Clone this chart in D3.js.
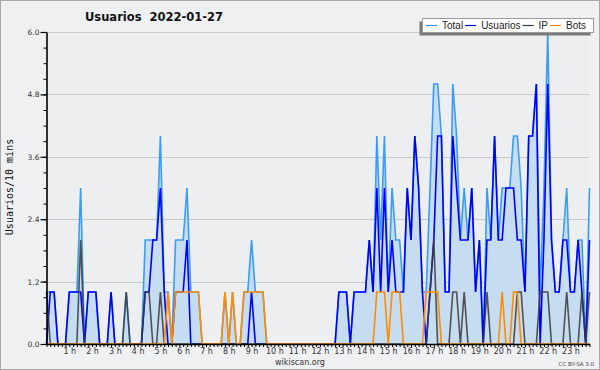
<!DOCTYPE html>
<html>
<head>
<meta charset="utf-8">
<script src="https://cdn.jsdelivr.net/npm/d3@7"></script>
<style>
  html, body { margin: 0; padding: 0; background: #eff0f1; }
  svg { display: block; }
</style>
</head>
<body>
<div id="chart"></div>
<script>
/* Data: one value per 10 minutes, 00:00 - 23:50
-----------------------------------------------------------------------------*/
const total = [
  1, 1, 1, 0, 0, 0, 1, 1, 1, 3, 0, 1,
  1, 1, 0, 0, 0, 1, 0, 0, 0, 1, 0, 0,
  0, 0, 2, 2, 2, 2, 4, 1, 1, 0, 2, 2,
  2, 3, 1, 1, 1, 0, 0, 0, 0, 0, 0, 1,
  0, 1, 0, 0, 1, 1, 2, 1, 1, 1, 0, 0,
  0, 0, 0, 0, 0, 0, 0, 0, 0, 0, 0, 0,
  0, 0, 0, 0, 0, 1, 1, 1, 0, 1, 1, 1,
  1, 2, 1, 4, 2, 4, 1, 3, 2, 2, 1, 3,
  2, 4, 3, 1, 1, 3, 5, 5, 4, 1, 1, 5,
  4, 2, 3, 2, 3, 1, 2, 0, 3, 2, 4, 2,
  3, 3, 3, 4, 4, 3, 1, 4, 4, 5, 1, 3,
  6, 2, 1, 1, 2, 3, 1, 1, 2, 2, 0, 3,
];

const usuarios = [
  0, 1, 1, 0, 0, 0, 1, 1, 1, 1, 0, 1,
  1, 1, 0, 0, 0, 1, 0, 0, 0, 0, 0, 0,
  0, 0, 1, 1, 2, 2, 3, 1, 0, 0, 1, 1,
  1, 2, 0, 0, 0, 0, 0, 0, 0, 0, 0, 0,
  0, 0, 0, 0, 0, 0, 1, 0, 0, 0, 0, 0,
  0, 0, 0, 0, 0, 0, 0, 0, 0, 0, 0, 0,
  0, 0, 0, 0, 0, 1, 1, 1, 0, 1, 1, 1,
  1, 2, 1, 3, 1, 3, 1, 2, 1, 1, 1, 3,
  2, 4, 3, 1, 0, 1, 2, 4, 4, 1, 1, 4,
  3, 2, 2, 2, 3, 1, 2, 0, 2, 2, 4, 2,
  2, 3, 3, 3, 2, 2, 1, 4, 4, 5, 0, 2,
  5, 2, 1, 1, 2, 2, 1, 1, 2, 1, 0, 2,
];

const ip = [
  1, 0, 0, 0, 0, 0, 0, 0, 0, 2, 0, 0,
  0, 0, 0, 0, 0, 0, 0, 0, 0, 1, 0, 0,
  0, 0, 1, 1, 0, 0, 1, 0, 0, 0, 0, 0,
  0, 0, 0, 0, 0, 0, 0, 0, 0, 0, 0, 0,
  0, 0, 0, 0, 0, 0, 0, 0, 0, 0, 0, 0,
  0, 0, 0, 0, 0, 0, 0, 0, 0, 0, 0, 0,
  0, 0, 0, 0, 0, 0, 0, 0, 0, 0, 0, 0,
  0, 0, 0, 0, 0, 0, 0, 0, 0, 0, 0, 0,
  0, 0, 0, 0, 0, 1, 2, 0, 0, 0, 0, 1,
  1, 0, 1, 0, 0, 0, 0, 0, 1, 0, 0, 0,
  0, 0, 0, 0, 1, 1, 0, 0, 0, 0, 1, 1,
  1, 0, 0, 0, 0, 1, 0, 0, 0, 1, 0, 1,
];

const bots = [
  0, 0, 0, 0, 0, 0, 0, 0, 0, 0, 0, 0,
  0, 0, 0, 0, 0, 0, 0, 0, 0, 0, 0, 0,
  0, 0, 0, 0, 0, 0, 0, 0, 1, 0, 1, 1,
  1, 1, 1, 1, 1, 0, 0, 0, 0, 0, 0, 1,
  0, 1, 0, 0, 1, 1, 1, 1, 1, 1, 0, 0,
  0, 0, 0, 0, 0, 0, 0, 0, 0, 0, 0, 0,
  0, 0, 0, 0, 0, 0, 0, 0, 0, 0, 0, 0,
  0, 0, 0, 1, 1, 1, 0, 1, 1, 1, 0, 0,
  0, 0, 0, 0, 1, 1, 1, 1, 0, 0, 0, 0,
  0, 0, 0, 0, 0, 0, 0, 0, 0, 0, 0, 0,
  1, 0, 0, 1, 1, 0, 0, 0, 0, 0, 0, 0,
  0, 0, 0, 0, 0, 0, 0, 0, 0, 0, 0, 0,
];

const yTicks = [0, 1.2, 2.4, 3.6, 4.8, 6.0];
const hourLabels = [
  '1 h', '2 h', '3 h', '4 h', '5 h', '6 h', '7 h', '8 h', '9 h', '10 h', '11 h', '12 h',
  '13 h', '14 h', '15 h', '16 h', '17 h', '18 h', '19 h', '20 h', '21 h', '22 h', '23 h',
];

const series = [
  { name: 'Total', values: total, color: '#3a9cf5' },
  { name: 'Usuarios', values: usuarios, color: '#0000ff' },
  { name: 'IP', values: ip, color: '#3a3a3a' },
  { name: 'Bots', values: bots, color: '#ff8c00' },
];

/* Setup
-----------------------------------------------------------------------------*/
const width = 600;
const height = 370;
const plot = { left: 46.5, right: 589.5, top: 32, bottom: 344 };

const svg = d3
  .select('#chart')
  .append('svg')
  .attr('width', width)
  .attr('height', height)
  .attr('xmlns', 'http://www.w3.org/2000/svg');

svg
  .append('rect')
  .attr('x', 0.5)
  .attr('y', 0.5)
  .attr('width', width - 1)
  .attr('height', height - 1)
  .attr('fill', '#eff0f1')
  .attr('stroke', '#a8a8a8');

svg
  .append('rect')
  .attr('x', plot.left)
  .attr('y', plot.top)
  .attr('width', plot.right - plot.left)
  .attr('height', plot.bottom - plot.top)
  .attr('fill', '#eceef0');

const x = d3
  .scaleLinear()
  .domain([0, total.length - 1])
  .range([plot.left, plot.right]);

const y = d3.scaleLinear().domain([0, 6]).range([plot.bottom, plot.top]);

/* Grid
-----------------------------------------------------------------------------*/
svg
  .append('g')
  .selectAll('line')
  .data(yTicks.filter((d) => d > 0))
  .join('line')
  .attr('x1', plot.left)
  .attr('x2', plot.right)
  .attr('y1', (d) => Math.round(y(d)) + 0.5)
  .attr('y2', (d) => Math.round(y(d)) + 0.5)
  .attr('stroke', '#c9c9c9')
  .attr('stroke-width', 1.2);

/* Series
-----------------------------------------------------------------------------*/
const area = d3
  .area()
  .x((d, i) => x(i))
  .y0(y(0))
  .y1((d) => y(d));

const line = d3
  .line()
  .x((d, i) => x(i))
  .y((d) => y(d));

svg
  .append('path')
  .attr('d', area(total))
  .attr('fill', '#c6dcf0');

series.forEach((s) => {
  svg
    .append('path')
    .attr('d', line(s.values))
    .attr('fill', 'none')
    .attr('stroke', s.color)
    .attr('stroke-width', 1.6)
    .attr('stroke-opacity', s.name === 'IP' ? 0.85 : 1)
    .attr('stroke-linejoin', 'miter');
});

/* Axes
-----------------------------------------------------------------------------*/
const yAxis = svg
  .append('g')
  .attr('transform', `translate(${plot.left},0)`)
  .call(
    d3
      .axisLeft(y)
      .tickValues(yTicks)
      .tickFormat(d3.format('.1f'))
      .tickSize(6)
      .tickSizeOuter(0)
      .tickPadding(1)
  );

yAxis.select('.domain').attr('stroke', '#000').attr('stroke-width', 1.6);
yAxis.selectAll('.tick line').attr('stroke', '#000').attr('stroke-width', 1.2);
yAxis
  .selectAll('.tick text')
  .attr('font-family', 'DejaVu Sans')
  .attr('font-size', 7.5)
  .attr('fill', '#333');

svg
  .append('g')
  .attr('transform', `translate(${plot.left},0)`)
  .call(
    d3
      .axisLeft(y)
      .tickValues(d3.range(0, 21).map((k) => k * 0.3))
      .tickFormat('')
      .tickSize(3)
      .tickSizeOuter(0)
  )
  .call((g) => g.select('.domain').remove())
  .selectAll('.tick line')
  .attr('stroke', '#000');

const xAxis = svg
  .append('g')
  .attr('transform', `translate(0,${plot.bottom})`)
  .call(
    d3
      .axisBottom(x)
      .tickValues(d3.range(0, total.length))
      .tickFormat((i) => (i % 6 === 0 && i > 0 ? hourLabels[i / 6 - 1] : ''))
      .tickSize(3)
      .tickSizeOuter(0)
      .tickPadding(1.5)
  );

xAxis.select('.domain').attr('stroke', '#000').attr('stroke-width', 1.6);
xAxis.selectAll('.tick line').attr('stroke', '#000');
xAxis
  .selectAll('.tick text')
  .attr('font-family', 'DejaVu Sans')
  .attr('font-size', 8)
  .attr('fill', '#333');

/* Titles
-----------------------------------------------------------------------------*/
svg
  .append('text')
  .attr('x', 85)
  .attr('y', 21)
  .attr('font-family', 'DejaVu Sans')
  .attr('font-weight', 'bold')
  .attr('font-size', 11.5)
  .attr('fill', '#111')
  .attr('xml:space', 'preserve')
  .text('Usuarios  2022-01-27');

svg
  .append('text')
  .attr('transform', 'translate(13,187) rotate(-90)')
  .attr('text-anchor', 'middle')
  .attr('font-family', 'DejaVu Sans Mono')
  .attr('font-size', 10)
  .attr('fill', '#111')
  .text('Usuarios/10 mins');

svg
  .append('text')
  .attr('x', 300)
  .attr('y', 365)
  .attr('text-anchor', 'middle')
  .attr('font-family', 'DejaVu Sans')
  .attr('font-size', 8)
  .attr('fill', '#333')
  .text('wikiscan.org');

svg
  .append('text')
  .attr('x', 594)
  .attr('y', 366)
  .attr('text-anchor', 'end')
  .attr('font-family', 'DejaVu Sans')
  .attr('font-size', 5.5)
  .attr('fill', '#444')
  .text('CC BY-SA 3.0');

/* Legend
-----------------------------------------------------------------------------*/
const legendBox = { x: 422.5, y: 18.5, w: 171, h: 14 };

svg
  .append('rect')
  .attr('x', legendBox.x - 3)
  .attr('y', legendBox.y + 3)
  .attr('width', legendBox.w)
  .attr('height', legendBox.h)
  .attr('fill', '#7a7a7a');

svg
  .append('rect')
  .attr('x', legendBox.x)
  .attr('y', legendBox.y)
  .attr('width', legendBox.w)
  .attr('height', legendBox.h)
  .attr('fill', '#fff')
  .attr('stroke', '#9a9a9a');

let cursor = legendBox.x + 3.5;
series.forEach((s) => {
  svg
    .append('line')
    .attr('x1', cursor)
    .attr('x2', cursor + 11)
    .attr('y1', legendBox.y + 7)
    .attr('y2', legendBox.y + 7)
    .attr('stroke', s.color)
    .attr('stroke-width', 1.2);

  const label = svg
    .append('text')
    .attr('x', cursor + 16)
    .attr('y', legendBox.y + 10.5)
    .attr('font-family', 'Liberation Sans')
    .attr('font-size', 10)
    .attr('fill', '#222')
    .text(s.name);

  cursor += 16 + label.node().getComputedTextLength() + 2;
});
</script>
</body>
</html>
